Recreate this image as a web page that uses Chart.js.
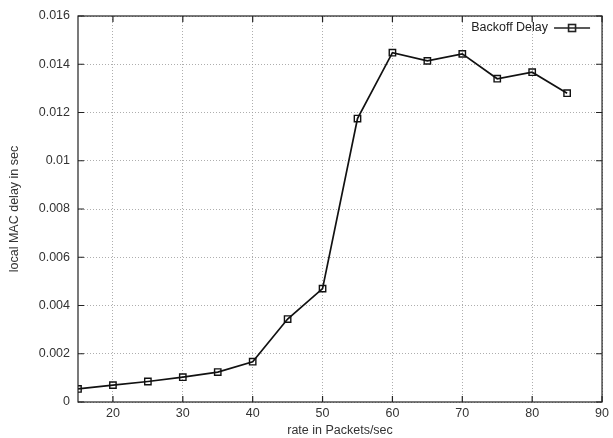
<!DOCTYPE html>
<html>
<head>
<meta charset="utf-8">
<script src="https://cdn.jsdelivr.net/npm/chart.js@4/dist/chart.umd.min.js"></script>
<style>
  body { margin: 0; background: #fff; }
  #wrap { width: 613px; height: 438px; }
</style>
</head>
<body>
<div id="wrap"><canvas id="my-chart"></canvas></div>
<script>
var rates = [15, 20, 25, 30, 35, 40, 45, 50, 55, 60, 65, 70, 75, 80, 85];
var delays = [0.00054, 0.0007, 0.00085, 0.00103, 0.00124, 0.00167, 0.00344, 0.0047,
              0.01175, 0.01448, 0.01414, 0.01443, 0.0134, 0.01367, 0.0128];
var seriesName = 'Backoff Delay';
var xTicks = [20, 30, 40, 50, 60, 70, 80, 90];
var yTicks = [0, 0.002, 0.004, 0.006, 0.008, 0.01, 0.012, 0.014, 0.016];

var FONT = 'Liberation Sans, Arial, sans-serif';

var points = [];
for (var i = 0; i < rates.length; i++) {
  points.push({x: rates[i], y: delays[i]});
}

// gnuplot-ish frame, inward ticks and legend inside the plot
var framePlugin = {
  id: 'frame',
  afterDraw: function(chart) {
    var ctx = chart.ctx;
    var a = chart.chartArea;
    var xs = chart.scales.x, ys = chart.scales.y;
    ctx.save();
    ctx.strokeStyle = '#222';
    ctx.lineWidth = 1.2;
    ctx.strokeRect(a.left, a.top, a.right - a.left, a.bottom - a.top);
    ctx.beginPath();
    for (var i = 0; i < xTicks.length; i++) {
      var px = xs.getPixelForValue(xTicks[i]);
      ctx.moveTo(px, a.bottom); ctx.lineTo(px, a.bottom - 6);
      ctx.moveTo(px, a.top); ctx.lineTo(px, a.top + 6);
    }
    for (var j = 0; j < yTicks.length; j++) {
      var py = ys.getPixelForValue(yTicks[j]);
      ctx.moveTo(a.left, py); ctx.lineTo(a.left + 6, py);
      ctx.moveTo(a.right, py); ctx.lineTo(a.right - 6, py);
    }
    ctx.stroke();

    // legend
    var ly = a.top + 12;
    var lx2 = a.right - 12, lx1 = lx2 - 36;
    ctx.font = '12.5px ' + FONT;
    ctx.fillStyle = '#222';
    ctx.textAlign = 'right';
    ctx.textBaseline = 'middle';
    ctx.fillText(seriesName, lx1 - 6, ly);
    ctx.lineWidth = 1.6;
    ctx.beginPath();
    ctx.moveTo(lx1, ly); ctx.lineTo(lx2, ly);
    ctx.stroke();
    ctx.strokeRect((lx1 + lx2) / 2 - 3.5, ly - 3.5, 7, 7);
    ctx.restore();
  }
};

new Chart(document.getElementById('my-chart'), {
  type: 'line',
  data: {
    datasets: [{
      label: seriesName,
      data: points,
      borderColor: '#111',
      borderWidth: 1.7,
      backgroundColor: 'rgba(0,0,0,0)',
      pointStyle: 'rect',
      pointRadius: 4.5,
      pointBorderWidth: 1.4,
      pointBorderColor: '#111',
      tension: 0
    }]
  },
  options: {
    responsive: true,
    maintainAspectRatio: false,
    animation: false,
    layout: { padding: { left: 7, top: 16, right: 7, bottom: 0 } },
    plugins: { legend: { display: false }, tooltip: { enabled: false } },
    scales: {
      x: {
        type: 'linear',
        min: 15, max: 90,
        afterBuildTicks: function(scale) {
          scale.ticks = xTicks.map(function(v) { return {value: v}; });
        },
        afterFit: function(scale) { scale.height = 36; },
        grid: { color: '#999', lineWidth: 0.8, drawTicks: false },
        border: { display: false, dash: [1, 2] },
        ticks: { color: '#333', padding: 4, maxRotation: 0, font: { family: FONT, size: 12.5 } },
        title: { display: true, text: 'rate in Packets/sec', color: '#333', padding: 0, font: { family: FONT, size: 12.5 } }
      },
      y: {
        min: 0, max: 0.016,
        afterBuildTicks: function(scale) {
          scale.ticks = yTicks.map(function(v) { return {value: v}; });
        },
        afterFit: function(scale) { scale.width = 71; },
        grid: { color: '#999', lineWidth: 0.8, drawTicks: false },
        border: { display: false, dash: [1, 2] },
        ticks: {
          color: '#333', padding: 8, font: { family: FONT, size: 12.5 },
          callback: function(v) { return String(Math.round(v * 1000) / 1000); }
        },
        title: { display: true, text: 'local MAC delay in sec', color: '#333', padding: 0, font: { family: FONT, size: 12.5 } }
      }
    }
  },
  plugins: [framePlugin]
});
</script>
</body>
</html>
